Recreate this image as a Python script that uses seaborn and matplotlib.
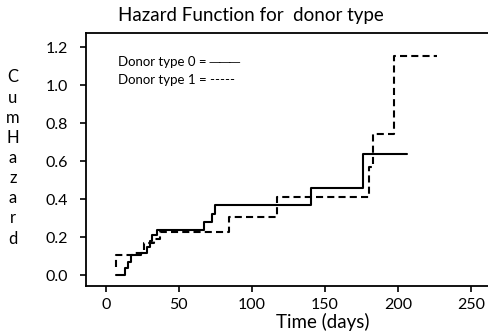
import numpy as np
import pandas as pd
import matplotlib
matplotlib.use("Agg")
import matplotlib.pyplot as plt
import seaborn as sns

# Data (step functions, steps-post)
time_type0 = [7, 13, 15, 17, 24, 28, 30, 32, 35, 67, 73, 74.5, 140.6, 176, 206]
haz_type0 = [0.0, 0.035, 0.07, 0.105, 0.114, 0.15, 0.18, 0.21, 0.237, 0.277, 0.322, 0.37, 0.456, 0.637, 0.637]
time_type1 = [7, 7.3, 19, 26, 33, 37, 84.5, 117, 180.5, 182.8, 197.7, 226.7]
haz_type1 = [0.045, 0.105, 0.114, 0.167, 0.19, 0.228, 0.305, 0.409, 0.567, 0.742, 1.152, 1.152]

x_ticks = [0, 50, 100, 150, 200, 250]
y_ticks = [0.0, 0.2, 0.4, 0.6, 0.8, 1.0, 1.2]
title = "Hazard Function for  donor type"
xlabel = "Time (days)"
ylabel = "CumHazard"
legend_lines = ["Donor type 0 = \u2500\u2500\u2500", "Donor type 1 = -----"]

df = pd.DataFrame({
    "time": time_type0 + time_type1,
    "cumhaz": haz_type0 + haz_type1,
    "donor": ["0"] * len(time_type0) + ["1"] * len(time_type1),
})

sns.set_theme(style="white")
FONT = ["Lato", "DejaVu Sans"]
plt.rcParams["font.family"] = FONT

W, H = 489, 331
fig = plt.figure(figsize=(W / 100, H / 100), dpi=100)
left_px, right_px, top_px, bottom_px = 85.7, 560, 33, 285.7
ax = fig.add_axes([left_px / W, 1 - bottom_px / H, (right_px - left_px) / W, (bottom_px - top_px) / H])

sns.lineplot(data=df, x="time", y="cumhaz", style="donor", color="black",
             dashes={"0": "", "1": (3.4, 2.0)}, estimator=None, sort=False,
             drawstyle="steps-post", linewidth=1.5, legend=False, ax=ax)

ax.set_xlim(-13.7, 311)
ax.set_ylim(-0.056, 1.274)
ax.set_xticks(x_ticks)
ax.set_yticks(y_ticks)
ax.set_xticklabels([str(v) for v in x_ticks])
ax.set_yticklabels([f"{v:.1f}" for v in y_ticks])
ax.tick_params(axis="both", direction="out", length=4, width=1.2, color="black",
               labelsize=11.5, labelcolor="black", left=True, bottom=True)
ax.tick_params(axis="x", pad=5)
ax.tick_params(axis="y", pad=9)
for s in ["left", "bottom", "top", "right"]:
    ax.spines[s].set_color("black")
    ax.spines[s].set_linewidth(1.3)
ax.set_xlabel("")
ax.set_ylabel("")

fig.text(323 / W, 1 - 321.5 / H, xlabel, ha="center", va="center", fontsize=13.5, color="black")
fig.text(251 / W, 1 - 15 / H, title, ha="center", va="center", fontsize=13.5, color="black")
fig.text(13 / W, 1 - 158 / H, "\n".join(list(ylabel)), ha="center", va="center",
         fontsize=12, linespacing=1.32, color="black")
fig.text(118 / W, 1 - 62 / H, legend_lines[0], ha="left", va="center", fontsize=9.5, color="black")
fig.text(118 / W, 1 - 80.5 / H, legend_lines[1], ha="left", va="center", fontsize=9.5, color="black")

fig.savefig("out.png", dpi=100)
